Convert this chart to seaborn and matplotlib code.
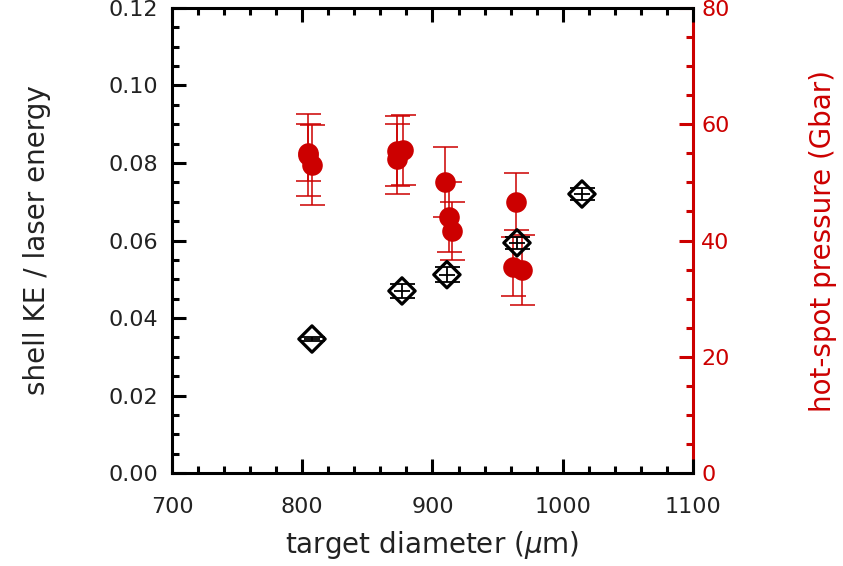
import matplotlib
matplotlib.use("Agg")
import matplotlib.pyplot as plt
import seaborn as sns
import pandas as pd
from matplotlib.ticker import MultipleLocator

# shell kinetic energy / laser energy (left axis)
ke_diam = [807.5, 876.6, 911.1, 964.9, 1014.8]
ke_frac = [0.0346, 0.0470, 0.0512, 0.0594, 0.0720]
ke_err = [0.0004, 0.0018, 0.0019, 0.0016, 0.0015]
ke_xerr = [6, 6, 6, 6, 6]

# hot-spot pressure (right axis, Gbar)
p_diam = [804.2, 804.2, 807.3, 873.1, 873.1, 877.0, 909.6, 912.9, 914.7, 964.1, 962.0, 968.5]
p_gbar = [55.1, 54.7, 53.0, 55.4, 54.0, 55.6, 50.1, 44.0, 41.7, 46.7, 35.5, 34.9]
p_err = [4.9, 7.0, 6.9, 6.0, 6.0, 6.0, 6.0, 6.0, 5.0, 4.9, 5.1, 6.0]

ke_df = pd.DataFrame({"d": ke_diam, "ke": ke_frac})
p_df = pd.DataFrame({"d": p_diam, "p": p_gbar})

sns.set_style("white")
plt.rcParams["font.family"] = ["DejaVu Sans"]

RED = "#cc0000"
TXT = "#222222"

fig = plt.figure(figsize=(8.43, 5.66), dpi=100)
ax = fig.add_axes([0.204, 0.164, 0.618, 0.822])
ax2 = ax.twinx()

# right-axis data (pressure)
ax2.errorbar(p_diam, p_gbar, yerr=p_err, fmt="none", ecolor=RED,
             elinewidth=1.1, capsize=9, capthick=1.1, zorder=2)
sns.scatterplot(data=p_df, x="d", y="p", ax=ax2, color=RED, s=220,
                edgecolor=RED, linewidth=0, zorder=3, legend=False)

# left-axis data (shell KE)
ax.errorbar(ke_diam, ke_frac, yerr=ke_err, fmt="none", ecolor="black",
            elinewidth=1.3, capsize=9, capthick=1.3, zorder=4)
ax.errorbar(ke_diam, ke_frac, xerr=ke_xerr, fmt="none", ecolor="black",
            elinewidth=1.3, capsize=0, zorder=4)
sns.scatterplot(data=ke_df, x="d", y="ke", ax=ax, marker="D", s=180,
                facecolor="none", edgecolor="black", linewidth=2.3,
                zorder=5, legend=False)
ax.set_zorder(ax2.get_zorder() + 1)
ax.patch.set_visible(False)

ax.set_xlim(700, 1100)
ax.set_ylim(0, 0.12)
ax2.set_ylim(0, 80)

ax.xaxis.set_major_locator(MultipleLocator(100))
ax.xaxis.set_minor_locator(MultipleLocator(20))
ax.yaxis.set_major_locator(MultipleLocator(0.02))
ax.yaxis.set_minor_locator(MultipleLocator(0.005))
ax2.yaxis.set_major_locator(MultipleLocator(20))
ax2.yaxis.set_minor_locator(MultipleLocator(5))

ax.yaxis.set_major_formatter(matplotlib.ticker.FormatStrFormatter("%.2f"))

ax.tick_params(axis="both", which="both", direction="in", colors="black",
               labelcolor=TXT, width=2.2, labelsize=16)
ax.tick_params(axis="x", which="both", top=True, bottom=True, pad=17)
ax.tick_params(axis="y", which="both", left=True, right=False, pad=10)
ax.tick_params(which="major", length=10)
ax.tick_params(which="minor", length=5)

ax2.tick_params(axis="y", which="both", direction="in", colors=RED,
                labelcolor=RED, width=2.2, labelsize=16, pad=6)
ax2.tick_params(which="major", length=10)
ax2.tick_params(which="minor", length=5)

for s in ["left", "bottom", "top"]:
    ax.spines[s].set_linewidth(2.2)
    ax.spines[s].set_color("black")
ax.spines["right"].set_visible(False)
for s in ["left", "bottom", "top"]:
    ax2.spines[s].set_visible(False)
ax2.spines["right"].set_linewidth(2.2)
ax2.spines["right"].set_color(RED)

ax.set_xlabel("target diameter ($\\mu$m)", fontsize=20, color=TXT, labelpad=9)
ax.set_ylabel("shell KE / laser energy", fontsize=20, color=TXT, labelpad=41)
ax2.set_ylabel("hot-spot pressure (Gbar)", fontsize=20, color=RED, labelpad=57)

fig.savefig("out.png", dpi=100)
